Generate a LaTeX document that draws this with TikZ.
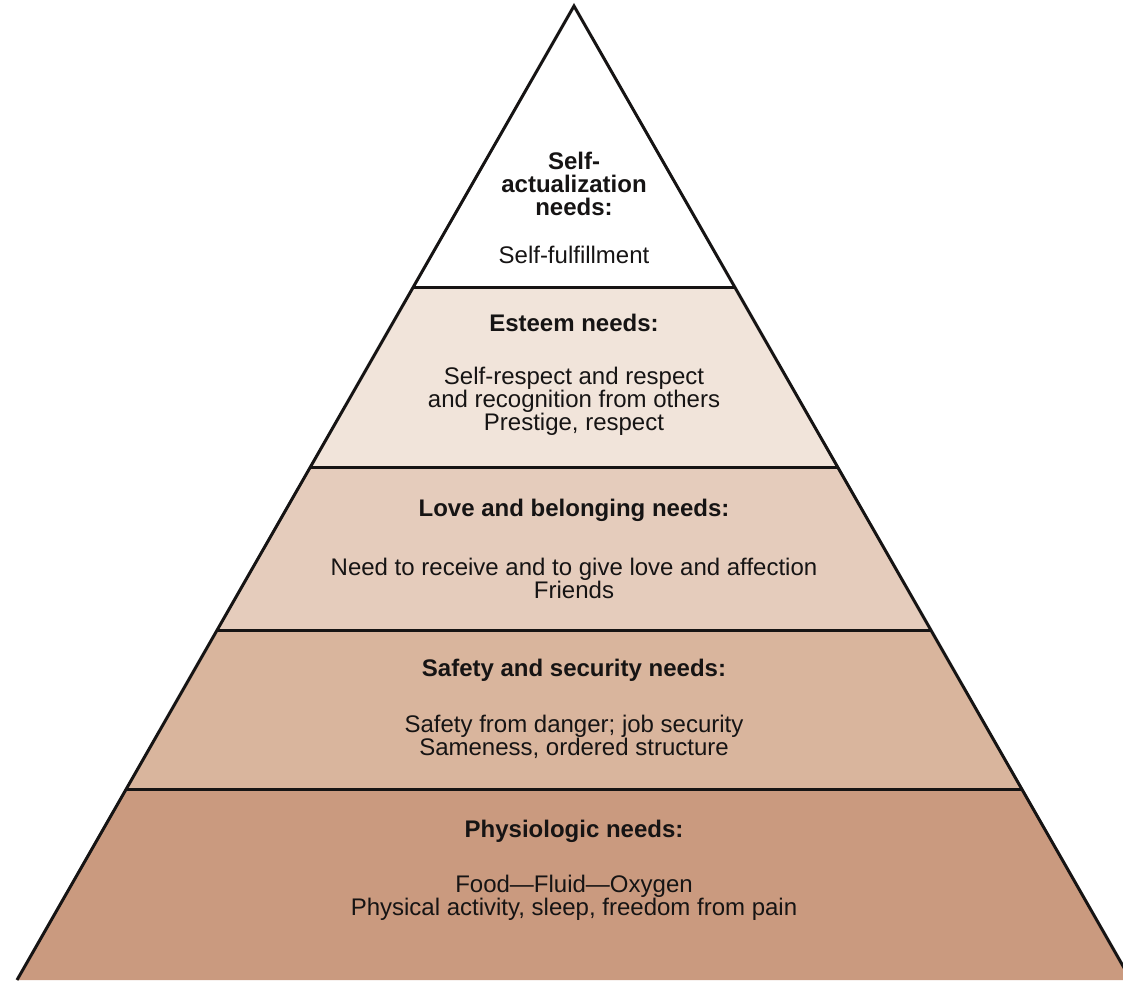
\documentclass[tikz,border=0pt]{standalone}
\usepackage{fontspec}
\setmainfont{Liberation Sans}
\usepackage{tikz}
\usetikzlibrary{calc}
\definecolor{esteembg}{RGB}{241, 228, 218}
\definecolor{lovebg}{RGB}{229, 204, 188}
\definecolor{safetybg}{RGB}{217, 181, 157}
\definecolor{physiobg}{RGB}{202, 154, 127}
\definecolor{inkdark}{RGB}{22, 20, 20}

\begin{document}
\begin{tikzpicture}[x=0.5pt, y=-0.5pt,
    every node/.style={font=\fontsize{12}{11.5}\selectfont, align=center, text=inkdark},
    leveltitle/.style={font=\fontsize{12}{11.5}\selectfont\bfseries},
    levelbody/.style={},
    pyrline/.style={draw=inkdark, line width=1.5pt, line join=miter}]
    \useasboundingbox (0,0) rectangle (1123,980);

    % Pyramid outline
    \coordinate (apex) at (574,6);
    \coordinate (baseL) at (17,980);
    \coordinate (baseR) at (1131,980);
    \foreach \t/\lvl in {0.2895/a, 0.4733/b, 0.6407/c, 0.8049/d}{
        \coordinate (\lvl L) at ($(apex)!\t!(baseL)$);
        \coordinate (\lvl R) at ($(apex)!\t!(baseR)$);
    }

    % Level fills
    \fill[esteembg] (aL) -- (aR) -- (bR) -- (bL) -- cycle;
    \fill[lovebg] (bL) -- (bR) -- (cR) -- (cL) -- cycle;
    \fill[safetybg] (cL) -- (cR) -- (dR) -- (dL) -- cycle;
    \fill[physiobg] (dL) -- (dR) -- (baseR) -- (baseL) -- cycle;

    % Level borders
    \draw[pyrline] (aL) -- (aR);
    \draw[pyrline] (bL) -- (bR);
    \draw[pyrline] (cL) -- (cR);
    \draw[pyrline] (dL) -- (dR);
    \draw[pyrline] (baseL) -- (apex) -- (baseR);

    % Self-actualization
    \node[leveltitle] (selftitle) at (574,184) {Self-\\actualization\\needs:};
    \node[levelbody] (selfbody) at (574,255) {Self-fulfillment};

    % Esteem
    \node[leveltitle] (esteemtitle) at (574,323) {Esteem needs:};
    \node[levelbody] (esteembody) at (574,401) {Self-respect and respect\\and recognition from others\\Prestige, respect};

    % Love and belonging
    \node[leveltitle] (lovetitle) at (574,510) {Love and belonging needs:};
    \node[levelbody] (lovebody) at (574,578) {Need to receive and to give love and affection\\Friends};

    % Safety and security
    \node[leveltitle] (safetytitle) at (574,670) {Safety and security needs:};
    \node[levelbody] (safetybody) at (574,737) {Safety from danger; job security\\Sameness, ordered structure};

    % Physiologic
    \node[leveltitle] (physiotitle) at (574,831) {Physiologic needs:};
    \node[levelbody] (physiobody) at (574,898) {Food---Fluid---Oxygen\\Physical activity, sleep, freedom from pain};
\end{tikzpicture}
\end{document}
